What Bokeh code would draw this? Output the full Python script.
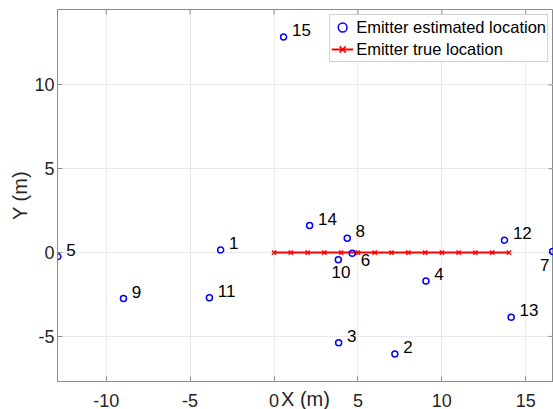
import math
from bokeh.plotting import figure
from bokeh.models import Range1d, Legend, LegendItem, ColumnDataSource, FixedTicker
from bokeh.core.properties import value
from bokeh.embed import file_html
from bokeh.resources import INLINE

# Estimated emitter locations (m)
est_x = [-3.18, 7.20, 3.85, 9.05, -12.88, 4.66, 16.60, 4.36, -8.97, 3.83, -3.85, 13.73, 14.13, 2.12, 0.57]
est_y = [0.16, -6.05, -5.38, -1.70, -0.24, -0.04, 0.06, 0.86, -2.74, -0.43, -2.70, 0.74, -3.85, 1.61, 12.86]
est_labels = ["1", "2", "3", "4", "5", "6", "7", "8", "9", "10", "11", "12", "13", "14", "15"]
# label offsets (data units)
lab_dx = [0.5, 0.5, 0.5, 0.5, 0.5, 0.5, -0.75, 0.5, 0.5, -0.4, 0.5, 0.5, 0.5, 0.5, 0.5]
lab_dy = [0.4, 0.4, 0.4, 0.4, 0.4, -0.4, -0.8, 0.4, 0.4, -0.75, 0.4, 0.4, 0.4, 0.4, 0.4]

# True emitter locations (m)
true_x = [0, 1, 2, 3, 4, 5, 6, 7, 8, 9, 10, 11, 12, 13, 14]
true_y = [0, 0, 0, 0, 0, 0, 0, 0, 0, 0, 0, 0, 0, 0, 0]

x_ticks = [-10, -5, 0, 5, 10, 15]
y_ticks = [-5, 0, 5, 10]
x_lim = (-12.9, 16.65)
y_lim = (-7.69, 14.5)

FONT = "Liberation Sans"
AX_COL = "#8c8c8c"
TXT_COL = "#262626"

p = figure(frame_width=496, frame_height=372,
           x_range=Range1d(*x_lim), y_range=Range1d(*y_lim),
           output_backend="svg", toolbar_location=None, title=None,
           min_border_left=57, min_border_top=9, min_border_right=0, min_border_bottom=0)
p.outline_line_color = AX_COL
p.outline_line_width = 1
p.background_fill_color = "white"
p.border_fill_color = "white"

est_src = ColumnDataSource(dict(x=est_x, y=est_y,
                                lx=[a + b for a, b in zip(est_x, lab_dx)],
                                ly=[a + b for a, b in zip(est_y, lab_dy)],
                                t=est_labels))
true_src = ColumnDataSource(dict(x=true_x, y=true_y))

# inward tick marks on top and right edges (box on)
p.scatter(x_ticks, [y_lim[1]] * len(x_ticks), marker="dash", angle=math.pi / 2, size=10,
          line_color=AX_COL, line_width=1)
p.scatter([x_lim[1]] * len(y_ticks), y_ticks, marker="dash", size=10,
          line_color=AX_COL, line_width=1)

tl = p.line("x", "y", source=true_src, line_color="#ff0000", line_width=2)
tx = p.scatter("x", "y", source=true_src, marker="x", size=6, line_color="#ff0000", line_width=1.5)
ec = p.scatter("x", "y", source=est_src, marker="circle", size=6, fill_color=None,
               line_color="#0000ff", line_width=1.5)
p.text("lx", "ly", text="t", source=est_src, text_font=value(FONT), text_font_size=value("17px"),
       text_align="left", text_baseline="middle", text_color="black")

# axes styling
for ax in (p.xaxis[0], p.yaxis[0]):
    ax.axis_line_color = AX_COL
    ax.major_tick_line_color = AX_COL
    ax.major_tick_in = 5
    ax.major_tick_out = 0
    ax.minor_tick_line_color = None
    ax.major_label_text_font = FONT
    ax.major_label_text_font_size = "18px"
    ax.major_label_text_color = TXT_COL
    ax.axis_label_text_font = FONT
    ax.axis_label_text_font_size = "20px"
    ax.axis_label_text_font_style = "normal"
    ax.axis_label_text_color = TXT_COL

p.xaxis[0].ticker = FixedTicker(ticks=x_ticks)
p.yaxis[0].ticker = FixedTicker(ticks=y_ticks)
p.xaxis[0].major_label_overrides = {t: str(t) for t in x_ticks}
p.yaxis[0].major_label_overrides = {t: str(t) for t in y_ticks}
p.xaxis[0].axis_label = "X (m)"
p.yaxis[0].axis_label = "Y (m)"
p.xaxis[0].major_label_standoff = 12
p.xaxis[0].axis_label_standoff = -22
p.yaxis[0].major_label_standoff = 3
p.yaxis[0].axis_label_standoff = 0

p.xgrid.ticker = FixedTicker(ticks=x_ticks)
p.ygrid.ticker = FixedTicker(ticks=y_ticks)
p.grid.grid_line_color = "#e9e9e9"
p.grid.grid_line_width = 1

legend = Legend(items=[LegendItem(label="Emitter estimated location", renderers=[ec]),
                       LegendItem(label="Emitter true location", renderers=[tl, tx])],
                location="top_right", margin=5, padding=1, spacing=0,
                label_text_font=FONT, label_text_font_size="16.5px", label_text_color="black",
                label_height=22, glyph_height=22, glyph_width=22, label_standoff=3,
                border_line_color="#a0a0a0", background_fill_color="white", background_fill_alpha=1)
p.add_layout(legend, "center")

open("out.html", "w").write(file_html(p, INLINE))
